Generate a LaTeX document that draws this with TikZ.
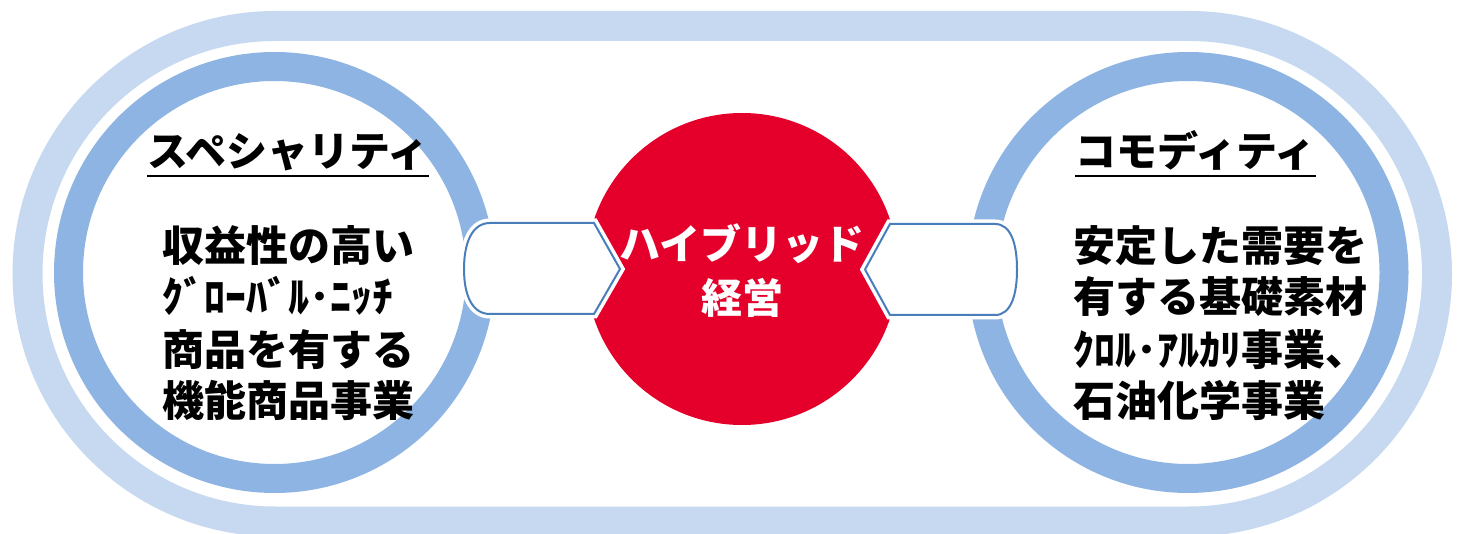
\documentclass[tikz,border=0pt]{standalone}
\usepackage{fontspec}
\setmainfont{Noto Sans CJK JP}
\newfontfamily\jpfont{Noto Sans CJK JP}
\definecolor{outerring}{RGB}{198,217,240}
\definecolor{innerring}{RGB}{141,180,226}
\definecolor{hubred}{RGB}{228,0,43}
\definecolor{connblue}{RGB}{74,126,187}
\begin{document}
\begin{tikzpicture}[x=1pt,y=-1pt,
  titletext/.style={font=\jpfont\bfseries\fontsize{41}{48}\selectfont, inner sep=0pt, anchor=base west},
  bodytext/.style={font=\jpfont\bfseries\fontsize{42}{50}\selectfont, inner sep=0pt, anchor=base west},
  hubtext/.style={font=\jpfont\bfseries\fontsize{41}{48}\selectfont, text=white, inner sep=0pt, anchor=base},
  ringline/.style={draw=innerring, line width=29pt},
  connshape/.style={fill=white, draw=connblue, line width=2pt, line join=miter,
    preaction={draw=white, line width=9pt}},
  underbar/.style={line width=2.2pt}]
\useasboundingbox (0,0) rectangle (1458,534);
\fill[white] (0,0) rectangle (1458,534);
% outer stadium
\draw[outerring, line width=30pt] (275.25,26) -- (1189.25,26) arc (-90:90:247.75)
  -- (275.25,521.5) arc (90:270:247.75) -- cycle;
% side circles
\draw[ringline] (274.5,272.5) circle (206);
\draw[ringline] (1188,272.5) circle (206);
% hub
\fill[hubred] (742,269) circle (156);
% connector shapes
\draw[connshape] (490,223) -- (594,223) -- (620,269) -- (594,314) -- (490,314)
  .. controls (472,314) and (464,295) .. (464,269)
  .. controls (464,243) and (472,223) .. (490,223) -- cycle;
\draw[connshape] (890,224) -- (995,224)
  .. controls (1011,224) and (1017,244) .. (1017,269.5)
  .. controls (1017,295) and (1011,315) .. (995,315) -- (890,315) -- (865,269.5) -- cycle;
% hub text
\node[hubtext] (hub1) at (742,260) {ハイブリッド};
\node[hubtext] (hub2) at (742,314) {経営};
% left text
\node[titletext] (ltitle) at (147,167) {スペシャリティ};
\draw[underbar] ([yshift=-9pt]ltitle.base west) -- ([yshift=-9pt]ltitle.base east);
\node[bodytext] (l1) at (162,262) {収益性の高い};
\node[bodytext] (l2) at (162,313) {ｸﾞﾛｰﾊﾞﾙ･ﾆｯﾁ};
\node[bodytext] (l3) at (162,365) {商品を有する};
\node[bodytext] (l4) at (162,416) {機能商品事業};
% right text
\node[titletext] (rtitle) at (1075,167) {コモディティ};
\draw[underbar] ([yshift=-9pt]rtitle.base west) -- ([yshift=-9pt]rtitle.base east);
\node[bodytext] (r1) at (1073,262) {安定した需要を};
\node[bodytext] (r2) at (1073,313) {有する基礎素材};
\node[bodytext] (r3) at (1073,365) {ｸﾛﾙ･ｱﾙｶﾘ事業、};
\node[bodytext] (r4) at (1073,416) {石油化学事業};
\end{tikzpicture}
\end{document}
